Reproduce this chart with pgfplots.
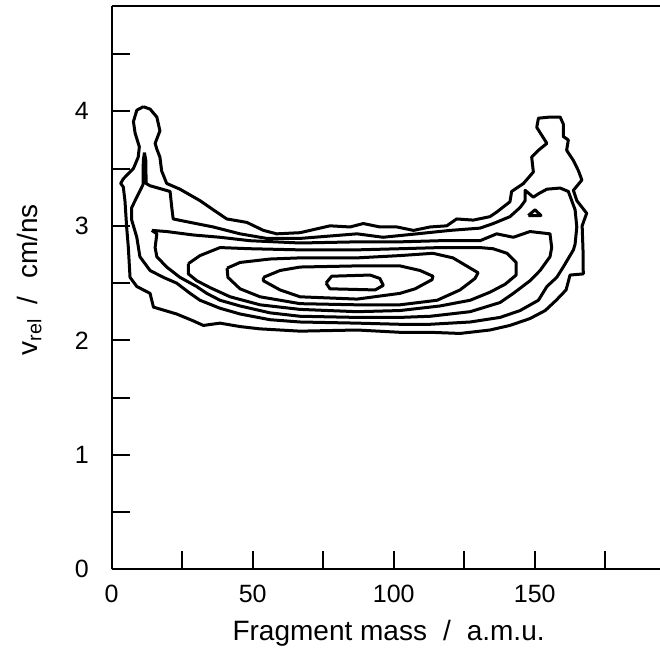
\documentclass[border=0pt]{standalone}
\usepackage{pgfplots}
\pgfplotsset{compat=1.18}
\usepackage{fontspec}
\setmainfont{Liberation Sans}
\begin{document}
\begin{tikzpicture}
\useasboundingbox (0,0) rectangle (330pt,324.5pt);
\begin{axis}[
  at={(55.85pt,39.85pt)}, anchor=south west,
  scale only axis, width=274.15pt, height=281.65pt,
  xmin=0, xmax=194.4, ymin=0, ymax=4.92,
  axis x line=box, axis y line=left,
  axis line style={-, line width=1pt},
  xtick pos=lower, ytick pos=left,
  xtick={0,50,100,150}, minor xtick={25,75,125,175},
  ytick={0,1,2,3,4}, minor ytick={0.5,1.5,2.5,3.5,4.5},
  tick align=inside,
  major tick length=9pt, minor tick length=9pt,
  tick style={black, line width=1pt},
  /pgf/number format/assume math mode=true,
  tick label style={font=\fontsize{12.5}{14}\selectfont},
  xticklabel style={anchor=base, yshift=-16.5pt},
  yticklabel style={anchor=east, inner sep=0pt, xshift=-11.3pt},
  xlabel={Fragment mass\hspace{8pt}/\hspace{8pt}a.m.u.},
  ylabel={v\textsubscript{rel}\hspace{7pt}/\hspace{9pt}cm/ns},
  xlabel style={font=\fontsize{14}{16}\selectfont, at={(axis description cs:0.505,-0.127)}, anchor=base},
  ylabel style={font=\fontsize{14}{16}\selectfont, at={(axis description cs:-0.136,0.514)}, anchor=base},
]
% contour A (outermost)
\addplot[black, line width=1.5pt, line join=round, mark=none] table {
x y
11.2 4.04
13.6 4.02
16.0 3.95
17.1 3.83
15.4 3.72
16.0 3.67
17.1 3.60
17.7 3.48
19.5 3.37
24.2 3.32
31.3 3.22
36.0 3.14
40.8 3.06
47.9 3.03
53.8 2.96
58.5 2.93
66.8 2.94
77.4 3.00
84.5 2.99
89.2 3.02
95.1 2.99
101.1 2.99
107.0 2.96
112.9 2.99
118.8 3.00
122.3 3.06
128.2 3.05
134.1 3.08
136.5 3.12
141.2 3.21
141.8 3.30
146.0 3.37
149.5 3.47
148.9 3.60
151.3 3.66
154.3 3.72
150.7 3.86
151.3 3.94
155.4 3.95
159.0 3.95
160.1 3.89
160.1 3.78
161.9 3.75
161.3 3.66
163.7 3.57
165.5 3.48
166.7 3.40
163.7 3.31
164.9 3.22
168.4 3.11
166.8 3.00
167.1 2.79
167.2 2.58
162.5 2.57
161.1 2.44
157.6 2.35
153.7 2.26
148.3 2.19
141.2 2.13
134.1 2.09
123.5 2.06
112.9 2.07
102.2 2.07
87.0 2.09
66.8 2.08
59.7 2.09
52.6 2.10
45.5 2.12
38.4 2.15
32.5 2.13
28.9 2.17
23.0 2.23
14.8 2.29
13.6 2.41
8.9 2.47
6.5 2.55
5.9 2.81
5.3 2.99
4.7 3.22
4.1 3.34
3.2 3.37
4.1 3.41
7.7 3.50
9.4 3.60
9.8 3.69
8.3 3.81
7.7 3.91
8.9 4.01
11.2 4.04
};
% contour B
\addplot[black, line width=1.5pt, line join=round, mark=none] table {
x y
11.6 3.64
12.1 3.57
12.2 3.37
13.6 3.35
20.7 3.30
21.3 3.16
21.8 3.06
27.8 3.03
36.0 2.99
45.5 2.93
55.0 2.89
66.8 2.89
87.0 2.93
96.2 2.90
108.2 2.93
120.0 2.96
130.6 2.98
135.3 3.02
141.2 3.08
144.8 3.16
146.6 3.22
146.6 3.31
149.5 3.25
151.3 3.28
154.3 3.32
159.0 3.33
161.9 3.30
164.3 3.14
164.9 2.99
164.3 2.84
163.7 2.79
160.1 2.64
157.8 2.55
154.3 2.47
151.3 2.35
144.8 2.26
137.7 2.20
127.1 2.16
112.9 2.14
102.2 2.14
87.0 2.15
66.8 2.16
56.1 2.18
45.5 2.23
38.4 2.28
31.3 2.35
27.8 2.41
23.0 2.50
18.3 2.55
13.6 2.61
10.0 2.73
8.9 2.90
7.1 3.05
7.1 3.16
8.9 3.25
11.1 3.36
11.2 3.57
11.6 3.64
};
% small island
\addplot[black, line width=1.5pt, line join=round, mark=none] table {
x y
147.7 3.09
150.1 3.14
152.2 3.09
147.7 3.09
};
% contour C
\addplot[black, line width=1.5pt, line join=round, mark=none] table {
x y
14.2 2.96
19.5 2.95
28.9 2.92
38.4 2.90
49.0 2.87
66.8 2.85
87.0 2.86
102.2 2.86
116.4 2.87
130.6 2.87
136.5 2.93
142.4 2.90
148.3 2.95
155.4 2.93
156.0 2.81
155.4 2.73
151.9 2.61
148.3 2.52
142.4 2.41
137.7 2.33
127.1 2.25
112.9 2.21
102.2 2.20
87.0 2.20
66.8 2.21
56.1 2.24
45.5 2.30
38.4 2.35
33.7 2.41
30.1 2.47
24.2 2.55
19.5 2.64
16.0 2.73
15.4 2.81
16.0 2.93
14.2 2.96
};
% contour D
\addplot[black, line width=1.5pt, line join=round, mark=none] table {
x y
27.2 2.67
31.3 2.74
38.4 2.81
49.0 2.80
66.8 2.79
87.0 2.79
102.2 2.80
116.4 2.81
130.6 2.81
135.2 2.80
140.2 2.76
143.4 2.68
143.4 2.57
139.5 2.49
134.1 2.42
127.1 2.35
116.4 2.30
102.2 2.26
87.0 2.25
66.8 2.27
52.6 2.31
42.0 2.38
34.9 2.46
30.2 2.52
27.2 2.58
27.2 2.67
};
% contour E
\addplot[black, line width=1.5pt, line join=round, mark=none] table {
x y
40.9 2.63
45.5 2.68
56.1 2.71
66.8 2.72
87.0 2.72
102.2 2.74
113.9 2.76
121.0 2.72
129.9 2.59
128.8 2.54
123.5 2.44
115.4 2.35
102.2 2.31
87.0 2.31
66.8 2.32
52.6 2.38
45.5 2.45
41.2 2.55
40.9 2.63
};
% contour F
\addplot[black, line width=1.5pt, line join=round, mark=none] table {
x y
53.8 2.55
59.7 2.61
66.8 2.64
87.0 2.65
102.2 2.65
109.3 2.61
113.9 2.56
113.6 2.53
107.6 2.45
102.2 2.41
87.0 2.36
66.8 2.38
59.7 2.44
53.8 2.52
53.8 2.55
};
% contour G (innermost)
\addplot[black, line width=1.5pt, line join=round, mark=none] table {
x y
76.0 2.50
78.0 2.56
91.6 2.57
95.1 2.54
96.3 2.48
93.4 2.44
77.4 2.45
76.0 2.50
};
\end{axis}
\end{tikzpicture}
\end{document}
